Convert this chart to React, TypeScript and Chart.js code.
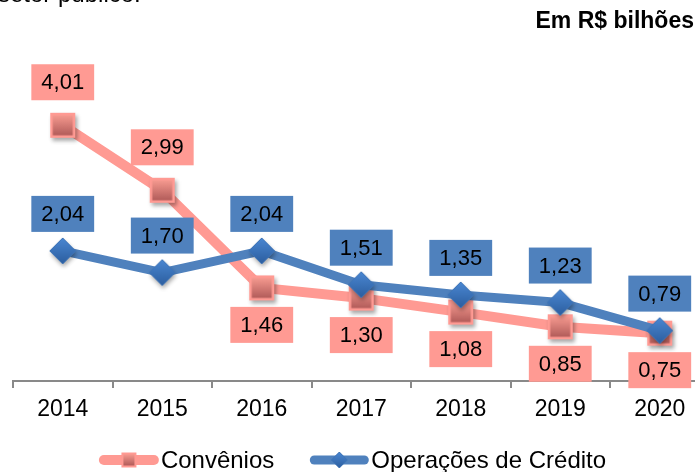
import React, { useEffect, useRef } from 'react';
import { Chart, registerables } from 'chart.js';
Chart.register(...registerables);

const categories = ['2014', '2015', '2016', '2017', '2018', '2019', '2020'];
const convenios = [4.01, 2.99, 1.46, 1.3, 1.08, 0.85, 0.75];
const operacoes = [2.04, 1.7, 2.04, 1.51, 1.35, 1.23, 0.79];
const conveniosLabelSide = ['above', 'above', 'below', 'below', 'below', 'below', 'below'];
const operacoesLabelSide = ['above', 'above', 'above', 'above', 'above', 'above', 'above'];
const seriesNames = ['Convênios', 'Operações de Crédito'];
const unitLabel = 'Em R$ bilhões';
const headerFragment = 'setor público.';

const SALMON = '#FF9A93';
const BLUE = '#4F81BD';
const FONT = '"Liberation Sans", Arial, Helvetica, sans-serif';

function makeSquare(side: number, withShadow: boolean) {
  const c = document.createElement('canvas');
  const s = side + 14;
  c.width = s;
  c.height = s;
  const ctx = c.getContext('2d')!;
  const o = (s - side) / 2;
  if (withShadow) {
    ctx.save();
    ctx.shadowColor = 'rgba(0,0,0,0.35)';
    ctx.shadowBlur = 4;
    ctx.shadowOffsetX = 2;
    ctx.shadowOffsetY = 3;
    ctx.fillStyle = SALMON;
    ctx.fillRect(o, o, side, side);
    ctx.restore();
  }
  ctx.fillStyle = SALMON;
  ctx.fillRect(o, o, side, side);
  const b = Math.max(2, side * 0.1);
  const g = ctx.createLinearGradient(0, o + b, 0, o + side - b);
  g.addColorStop(0, '#F5998F');
  g.addColorStop(1, '#B25C5A');
  ctx.fillStyle = g;
  ctx.fillRect(o + b, o + b, side - 2 * b, side - 2 * b);
  return c;
}

function makeDiamond(half: number, withShadow: boolean) {
  const c = document.createElement('canvas');
  const s = half * 2 + 12;
  c.width = s;
  c.height = s;
  const ctx = c.getContext('2d')!;
  const cx = s / 2;
  const cy = s / 2;
  const path = () => {
    ctx.beginPath();
    ctx.moveTo(cx, cy - half);
    ctx.lineTo(cx + half, cy);
    ctx.lineTo(cx, cy + half);
    ctx.lineTo(cx - half, cy);
    ctx.closePath();
  };
  ctx.save();
  if (withShadow) {
    ctx.shadowColor = 'rgba(0,0,0,0.35)';
    ctx.shadowBlur = 4;
    ctx.shadowOffsetX = 1;
    ctx.shadowOffsetY = 3;
  }
  const g = ctx.createLinearGradient(0, cy - half, 0, cy + half);
  g.addColorStop(0, '#4A87D2');
  g.addColorStop(1, '#2C5E9F');
  ctx.fillStyle = g;
  path();
  ctx.fill();
  ctx.restore();
  ctx.strokeStyle = '#3F74B6';
  ctx.lineWidth = 1;
  path();
  ctx.stroke();
  return c;
}

const fmt = (v: number) => v.toFixed(2).replace('.', ',');

export default function App() {
  const ref = useRef<HTMLCanvasElement | null>(null);

  useEffect(() => {
    const canvas = ref.current;
    if (!canvas) return;
    const squareMarker = makeSquare(25, true);
    const diamondMarker = makeDiamond(13, true);
    const squareLegend = makeSquare(15, false);
    const diamondLegend = makeDiamond(8, false);

    const labelsPlugin = {
      id: 'valueBoxes',
      afterDatasetsDraw(chart: any) {
        const ctx = chart.ctx;
        ctx.save();
        ctx.font = `22px ${FONT}`;
        ctx.textAlign = 'center';
        ctx.textBaseline = 'middle';
        chart.data.datasets.forEach((ds: any, di: number) => {
          const meta = chart.getDatasetMeta(di);
          const sides = di === 0 ? conveniosLabelSide : operacoesLabelSide;
          const fill = di === 0 ? SALMON : BLUE;
          meta.data.forEach((pt: any, i: number) => {
            const txt = fmt(ds.data[i]);
            const w = ctx.measureText(txt).width + 20;
            const h = 36;
            const above = sides[i] === 'above';
            const off = above ? (di === 0 ? 43 : 37) : 37;
            const cy = above ? pt.y - off : pt.y + off;
            const cx = pt.x;
            ctx.fillStyle = fill;
            ctx.fillRect(cx - w / 2, cy - h / 2, w, h);
            ctx.fillStyle = '#000';
            ctx.fillText(txt, cx, cy + 1);
          });
        });
        ctx.restore();
      },
    };

    const decorPlugin = {
      id: 'decor',
      afterDraw(chart: any) {
        const ctx = chart.ctx;
        ctx.save();
        ctx.fillStyle = '#000';
        ctx.textBaseline = 'alphabetic';
        ctx.font = `24px ${FONT}`;
        ctx.textAlign = 'left';
        ctx.fillText(headerFragment, -2, 2);
        ctx.font = `bold 23px ${FONT}`;
        ctx.textAlign = 'right';
        ctx.fillText(unitLabel, 694, 28);

        // legend
        const ly = 460;
        const lineLen = 58;
        ctx.font = `24px ${FONT}`;
        ctx.textAlign = 'left';
        ctx.textBaseline = 'middle';
        const w1 = ctx.measureText(seriesNames[0]).width;
        const w2 = ctx.measureText(seriesNames[1]).width;
        const gap = 36;
        const total = lineLen + 3 + w1 + gap + lineLen + 3 + w2;
        let x = 353 - total / 2;
        const items = [
          { color: SALMON, marker: squareLegend, name: seriesNames[0], w: w1, lw: 10 },
          { color: BLUE, marker: diamondLegend, name: seriesNames[1], w: w2, lw: 9 },
        ];
        items.forEach((it) => {
          ctx.strokeStyle = it.color;
          ctx.lineWidth = it.lw;
          ctx.lineCap = 'round';
          ctx.beginPath();
          ctx.moveTo(x + 4, ly);
          ctx.lineTo(x + lineLen - 4, ly);
          ctx.stroke();
          const mx = x + lineLen / 2;
          ctx.drawImage(it.marker, mx - it.marker.width / 2, ly - it.marker.height / 2);
          ctx.fillStyle = '#000';
          ctx.fillText(it.name, x + lineLen + 3, ly + 1);
          x += lineLen + 3 + it.w + gap;
        });
        ctx.restore();
      },
    };

    const chart = new Chart(canvas, {
      type: 'line',
      data: {
        labels: categories,
        datasets: [
          {
            label: seriesNames[0],
            data: convenios,
            borderColor: SALMON,
            backgroundColor: SALMON,
            borderWidth: 10,
            tension: 0,
            pointStyle: squareMarker as any,
            pointRadius: 14,
            order: 2,
            borderJoinStyle: 'round',
          },
          {
            label: seriesNames[1],
            data: operacoes,
            borderColor: BLUE,
            backgroundColor: BLUE,
            borderWidth: 9,
            tension: 0,
            pointStyle: diamondMarker as any,
            pointRadius: 14,
            order: 1,
            borderJoinStyle: 'round',
          },
        ],
      },
      options: {
        responsive: false,
        animation: false,
        events: [],
        layout: { autoPadding: false, padding: { left: 13, right: 10.5, top: 94, bottom: 47 } },
        plugins: {
          legend: { display: false },
          tooltip: { enabled: false },
          title: { display: false },
        },
        scales: {
          x: {
            type: 'category',
            offset: true,
            grid: {
              offset: true,
              drawOnChartArea: false,
              drawTicks: true,
              tickLength: 7,
              color: '#898989',
              lineWidth: 2,
            },
            border: { display: true, color: '#898989', width: 2 },
            ticks: {
              color: '#000',
              font: { family: FONT, size: 23 },
              padding: 8,
              maxRotation: 0,
              autoSkip: false,
            },
            afterFit(scale: any) {
              scale.height = 44;
            },
          },
          y: {
            display: false,
            min: 0,
            max: 4.5,
          },
        },
      },
      plugins: [labelsPlugin, decorPlugin],
    });
    return () => chart.destroy();
  }, []);

  return (
    <div
      style={{
        position: 'fixed',
        left: 0,
        top: 0,
        width: 695,
        height: 472,
        overflow: 'hidden',
        background: '#fff',
      }}
    >
      <canvas ref={ref} width={720} height={472} style={{ width: 720, height: 472, display: 'block' }} />
    </div>
  );
}
